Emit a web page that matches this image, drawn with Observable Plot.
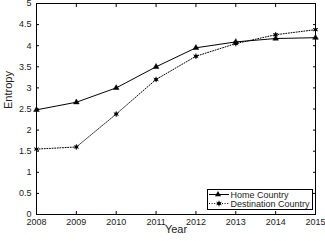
<!DOCTYPE html>
<html><head><meta charset="utf-8">
<script src="https://cdn.jsdelivr.net/npm/d3@7"></script>
<script src="https://cdn.jsdelivr.net/npm/@observablehq/plot@0.6"></script>
<style>
html,body{margin:0;padding:0;background:#fff;overflow:hidden;}
svg{font-family:"Liberation Sans",Arial,Helvetica,sans-serif;}
</style></head>
<body><div id="chart"></div>
<script>
const years = [2008, 2009, 2010, 2011, 2012, 2013, 2014, 2015];
const homeCountry = [2.48, 2.66, 3.0, 3.5, 3.95, 4.09, 4.17, 4.19];
const destinationCountry = [1.55, 1.6, 2.38, 3.2, 3.75, 4.05, 4.26, 4.38];
const yTicks = [0, 0.5, 1, 1.5, 2, 2.5, 3, 3.5, 4, 4.5, 5];
const seriesNames = ["Home Country", "Destination Country"];

const home = years.map((y, i) => ({year: y, value: homeCountry[i]}));
const dest = years.map((y, i) => ({year: y, value: destinationCountry[i]}));

const W = 325, H = 241;
const chart = Plot.plot({
  width: W, height: H,
  marginLeft: 36, marginRight: 10, marginTop: 3, marginBottom: 27,
  style: {fontSize: "9px", fontFamily: "Liberation Sans, Arial, sans-serif", background: "white", overflow: "visible"},
  x: {type: "linear", domain: [2008, 2015]},
  y: {domain: [0, 5]},
  marks: [
    Plot.axisX({anchor: "bottom", ticks: years, tickFormat: d => String(d), tickSize: 0, tickPadding: 4, label: null, fill: "#222"}),
    Plot.axisX({anchor: "bottom", ticks: years, tickSize: -3, tickFormat: () => "", label: null}),
    Plot.axisX({anchor: "top", ticks: years, tickSize: -3, tickFormat: () => "", label: null}),
    Plot.axisY({anchor: "left", ticks: yTicks, tickFormat: d => String(d), tickSize: 0, tickPadding: 5, label: null, fill: "#222"}),
    Plot.axisY({anchor: "left", ticks: yTicks, tickSize: -3, tickFormat: () => "", label: null}),
    Plot.axisY({anchor: "right", ticks: yTicks, tickSize: -3, tickFormat: () => "", label: null}),
    Plot.frame({stroke: "black", strokeWidth: 1}),
    Plot.line(home, {x: "year", y: "value", stroke: "black", strokeWidth: 1}),
    Plot.dot(home, {x: "year", y: "value", symbol: "triangle", r: 2.1, fill: "black", stroke: "black", strokeWidth: 0.5}),
    Plot.line(dest, {x: "year", y: "value", stroke: "black", strokeWidth: 1, strokeDasharray: "1,1.6"}),
    Plot.dot(dest, {x: "year", y: "value", symbol: "circle", r: 1.7, fill: "black"}),
    Plot.dot(dest, {x: "year", y: "value", symbol: "asterisk", r: 2.6, stroke: "black", strokeWidth: 0.9}),
    Plot.text(["Year"], {frameAnchor: "bottom", dy: 18, fontSize: 11, fill: "#222"}),
    Plot.text(["Entropy"], {frameAnchor: "left", dx: -28, rotate: -90, fontSize: 11, fill: "#222"})
  ]
});
document.getElementById("chart").appendChild(chart);

// Legend inside the plot
const svg = d3.select(chart);
const g = svg.append("g").attr("font-size", 9).attr("fill", "#222").attr("text-anchor", "start");
g.append("rect").attr("x", 207.5).attr("y", 189.5).attr("width", 105).attr("height", 20)
  .attr("fill", "white").attr("stroke", "black").attr("stroke-width", 1);
// row 1
g.append("line").attr("x1", 209).attr("x2", 229).attr("y1", 194.5).attr("y2", 194.5).attr("stroke", "black");
g.append("path").attr("d", d3.symbol(d3.symbolTriangle, 16)()).attr("transform", "translate(218,194.5)").attr("fill", "black");
g.append("text").attr("x", 230.5).attr("y", 194.5).attr("dy", "0.35em").text(seriesNames[0]);
// row 2
g.append("line").attr("x1", 209).attr("x2", 229).attr("y1", 203.5).attr("y2", 203.5).attr("stroke", "black").attr("stroke-dasharray", "1,1.6");
g.append("circle").attr("cx", 219).attr("cy", 203.5).attr("r", 1.7).attr("fill", "black");
g.append("path").attr("d", d3.symbol(d3.symbolAsterisk, 22)()).attr("transform", "translate(219,203.5)").attr("stroke", "black").attr("stroke-width", 0.9).attr("fill", "none");
g.append("text").attr("x", 230.5).attr("y", 203.5).attr("dy", "0.35em").text(seriesNames[1]);
</script>
</body></html>
